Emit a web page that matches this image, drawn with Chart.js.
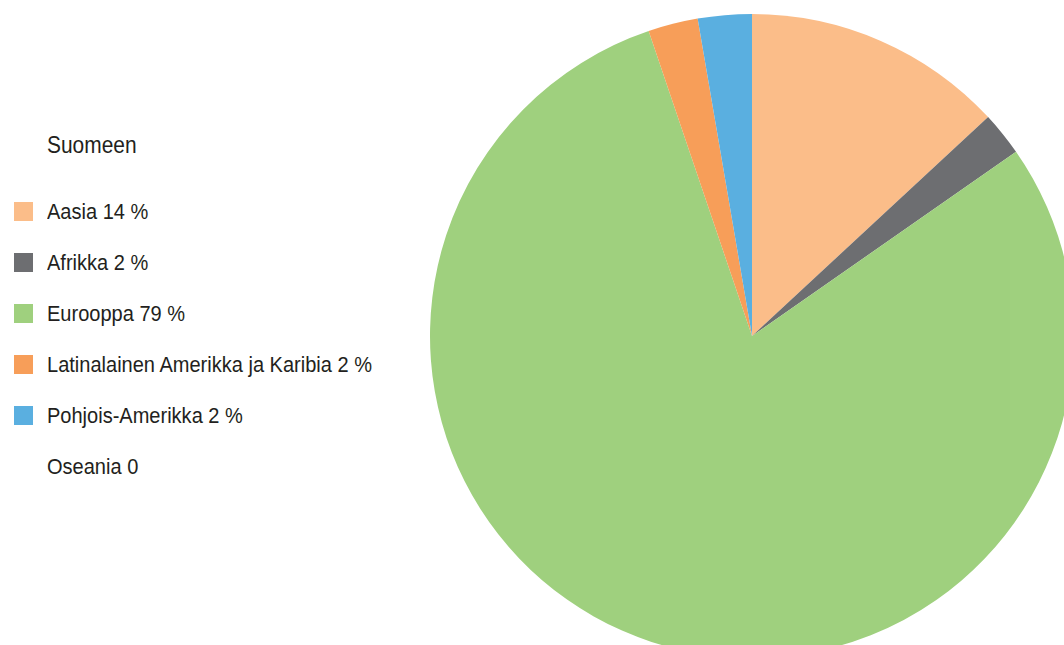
<!DOCTYPE html>
<html>
<head>
<meta charset="utf-8">
<script src="https://cdn.jsdelivr.net/npm/chart.js@4"></script>
<style>
    html, body { margin: 0; padding: 0; width: 1064px; height: 645px; overflow: hidden; background: #fff; }
    #pieBox { position: absolute; left: 430px; top: 14px; width: 644px; height: 644px; }
    #legend { position: absolute; left: 14px; top: 130px; font-family: "Liberation Sans Narrow", "Liberation Sans", sans-serif; color: #231f20; }
    #legend .title { font-size: 23px; margin-left: 33px; height: 30px; line-height: 30px; margin-bottom: 26px; transform: scaleX(0.91); transform-origin: left center; }
    #legend .row { display: flex; align-items: center; height: 51px; font-size: 22px; white-space: nowrap; }
    #legend .row span { display: inline-block; transform: scaleX(0.91); transform-origin: left center; }
    #legend .box { width: 19px; height: 19px; margin-right: 14px; flex: none; }
</style>
</head>
<body>
<div id="legend"></div>
<div id="pieBox"><canvas id="pieChart"></canvas></div>
<script>
const legendTitle = 'Suomeen';
const regions = ['Aasia', 'Afrikka', 'Eurooppa', 'Latinalainen Amerikka ja Karibia', 'Pohjois-Amerikka', 'Oseania'];
const shares = [13.1, 2.2, 79.5, 2.5, 2.7, 0];
const shareLabels = ['14 %', '2 %', '79 %', '2 %', '2 %', '0'];
const colors = ['#fbbd89', '#6d6e71', '#9fd07e', '#f79e59', '#5aafe0', 'rgba(0,0,0,0)'];

// Legend (left side)
const legend = document.getElementById('legend');
const title = document.createElement('div');
title.className = 'title';
title.textContent = legendTitle;
legend.appendChild(title);
regions.forEach((name, i) => {
    const row = document.createElement('div');
    row.className = 'row';
    const box = document.createElement('div');
    box.className = 'box';
    box.style.background = colors[i];
    const txt = document.createElement('span');
    txt.textContent = `${name} ${shareLabels[i]}`;
    row.appendChild(box);
    row.appendChild(txt);
    legend.appendChild(row);
});

const pieCtx = document.getElementById('pieChart');
new Chart(pieCtx, {
    type: 'pie',
    data: {
        labels: regions,
        datasets: [{
            data: shares,
            backgroundColor: colors,
            borderWidth: 0
        }]
    },
    options: {
        animation: false,
        responsive: true,
        maintainAspectRatio: false,
        plugins: {
            legend: { display: false },
            tooltip: { enabled: false }
        }
    }
});
</script>
</body>
</html>
